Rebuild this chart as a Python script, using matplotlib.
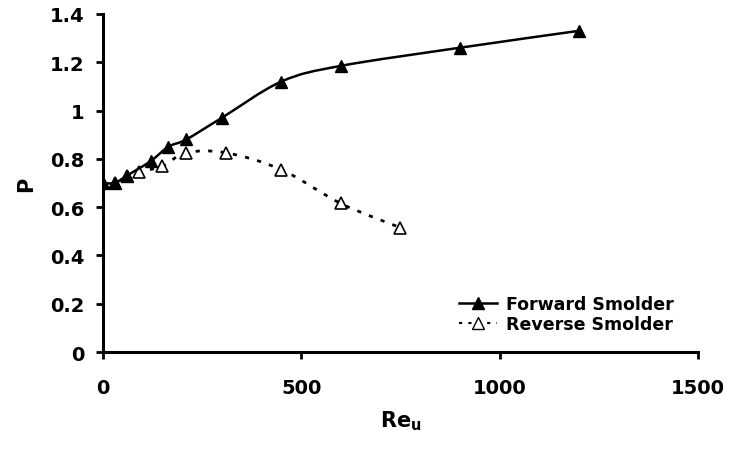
import matplotlib.pyplot as plt
from matplotlib.path import Path
from matplotlib.patches import PathPatch
from matplotlib.lines import Line2D

plt.rcParams['font.family'] = 'DejaVu Sans'
plt.rcParams['font.weight'] = 'bold'

fwd_re = [0, 30, 60, 120, 165, 210, 300, 450, 600, 900, 1200]
fwd_p = [0.70, 0.70, 0.73, 0.79, 0.85, 0.88, 0.97, 1.12, 1.185, 1.26, 1.33]

rev_re = [0, 30, 60, 90, 150, 210, 310, 450, 600, 750]
rev_p = [0.70, 0.70, 0.73, 0.745, 0.77, 0.825, 0.825, 0.755, 0.615, 0.515]

x_ticks = [0, 500, 1000, 1500]
y_ticks = [0, 0.2, 0.4, 0.6, 0.8, 1.0, 1.2, 1.4]
y_labels = ['0', '0.2', '0.4', '0.6', '0.8', '1', '1.2', '1.4']


def smooth_path(xs, ys):
    # cubic bezier through the points, like a spreadsheet "smoothed line"
    n = len(xs)
    verts = [(xs[0], ys[0])]
    codes = [Path.MOVETO]
    for i in range(n - 1):
        i0 = max(i - 1, 0)
        i3 = min(i + 2, n - 1)
        c1 = (xs[i] + (xs[i + 1] - xs[i0]) / 6, ys[i] + (ys[i + 1] - ys[i0]) / 6)
        c2 = (xs[i + 1] - (xs[i3] - xs[i]) / 6, ys[i + 1] - (ys[i3] - ys[i]) / 6)
        verts += [c1, c2, (xs[i + 1], ys[i + 1])]
        codes += [Path.CURVE4] * 3
    return Path(verts, codes)


fig = plt.figure(figsize=(7.3, 4.52), dpi=100)
ax = fig.add_axes([0.141, 0.219, 0.815, 0.748])

ax.add_patch(PathPatch(smooth_path(rev_re, rev_p), fill=False, color='black',
                       lw=2, linestyle=(0, (1.5, 3)), zorder=2))
ax.plot(rev_re, rev_p, linestyle='none', marker='^', ms=9, mfc='white',
        mec='black', mew=1.2, zorder=3)
ax.add_patch(PathPatch(smooth_path(fwd_re, fwd_p), fill=False, color='black',
                       lw=1.8, zorder=4))
ax.plot(fwd_re, fwd_p, linestyle='none', marker='^', ms=9, color='black',
        zorder=5)

ax.set_xlim(0, 1500)
ax.set_ylim(0, 1.4)
ax.set_xticks(x_ticks)
ax.set_yticks(y_ticks)
ax.set_yticklabels(y_labels)
ax.tick_params(direction='out', length=5, width=2, labelsize=14, pad=8)
ax.tick_params(axis='x', pad=14)
for s in ['top', 'right']:
    ax.spines[s].set_visible(False)
for s in ['left', 'bottom']:
    ax.spines[s].set_linewidth(2.2)

ax.set_xlabel('Re$_\\mathbf{u}$', fontsize=15, fontweight='bold', labelpad=8)
ax.set_ylabel('P', fontsize=15, fontweight='bold', labelpad=10)

handles = [
    Line2D([], [], color='black', lw=1.8, marker='^', ms=8),
    Line2D([], [], color='black', lw=1.5, linestyle=(0, (1.5, 3)), marker='^',
           ms=8, mfc='white', mec='black'),
]
ax.legend(handles, ['Forward Smolder', 'Reverse Smolder'], loc='lower right',
          frameon=False, handlelength=2.2, handletextpad=0.5, labelspacing=0.1,
          bbox_to_anchor=(0.985, 0.01), prop={'weight': 'bold', 'size': 12.5})

fig.savefig('out.png', dpi=100)
